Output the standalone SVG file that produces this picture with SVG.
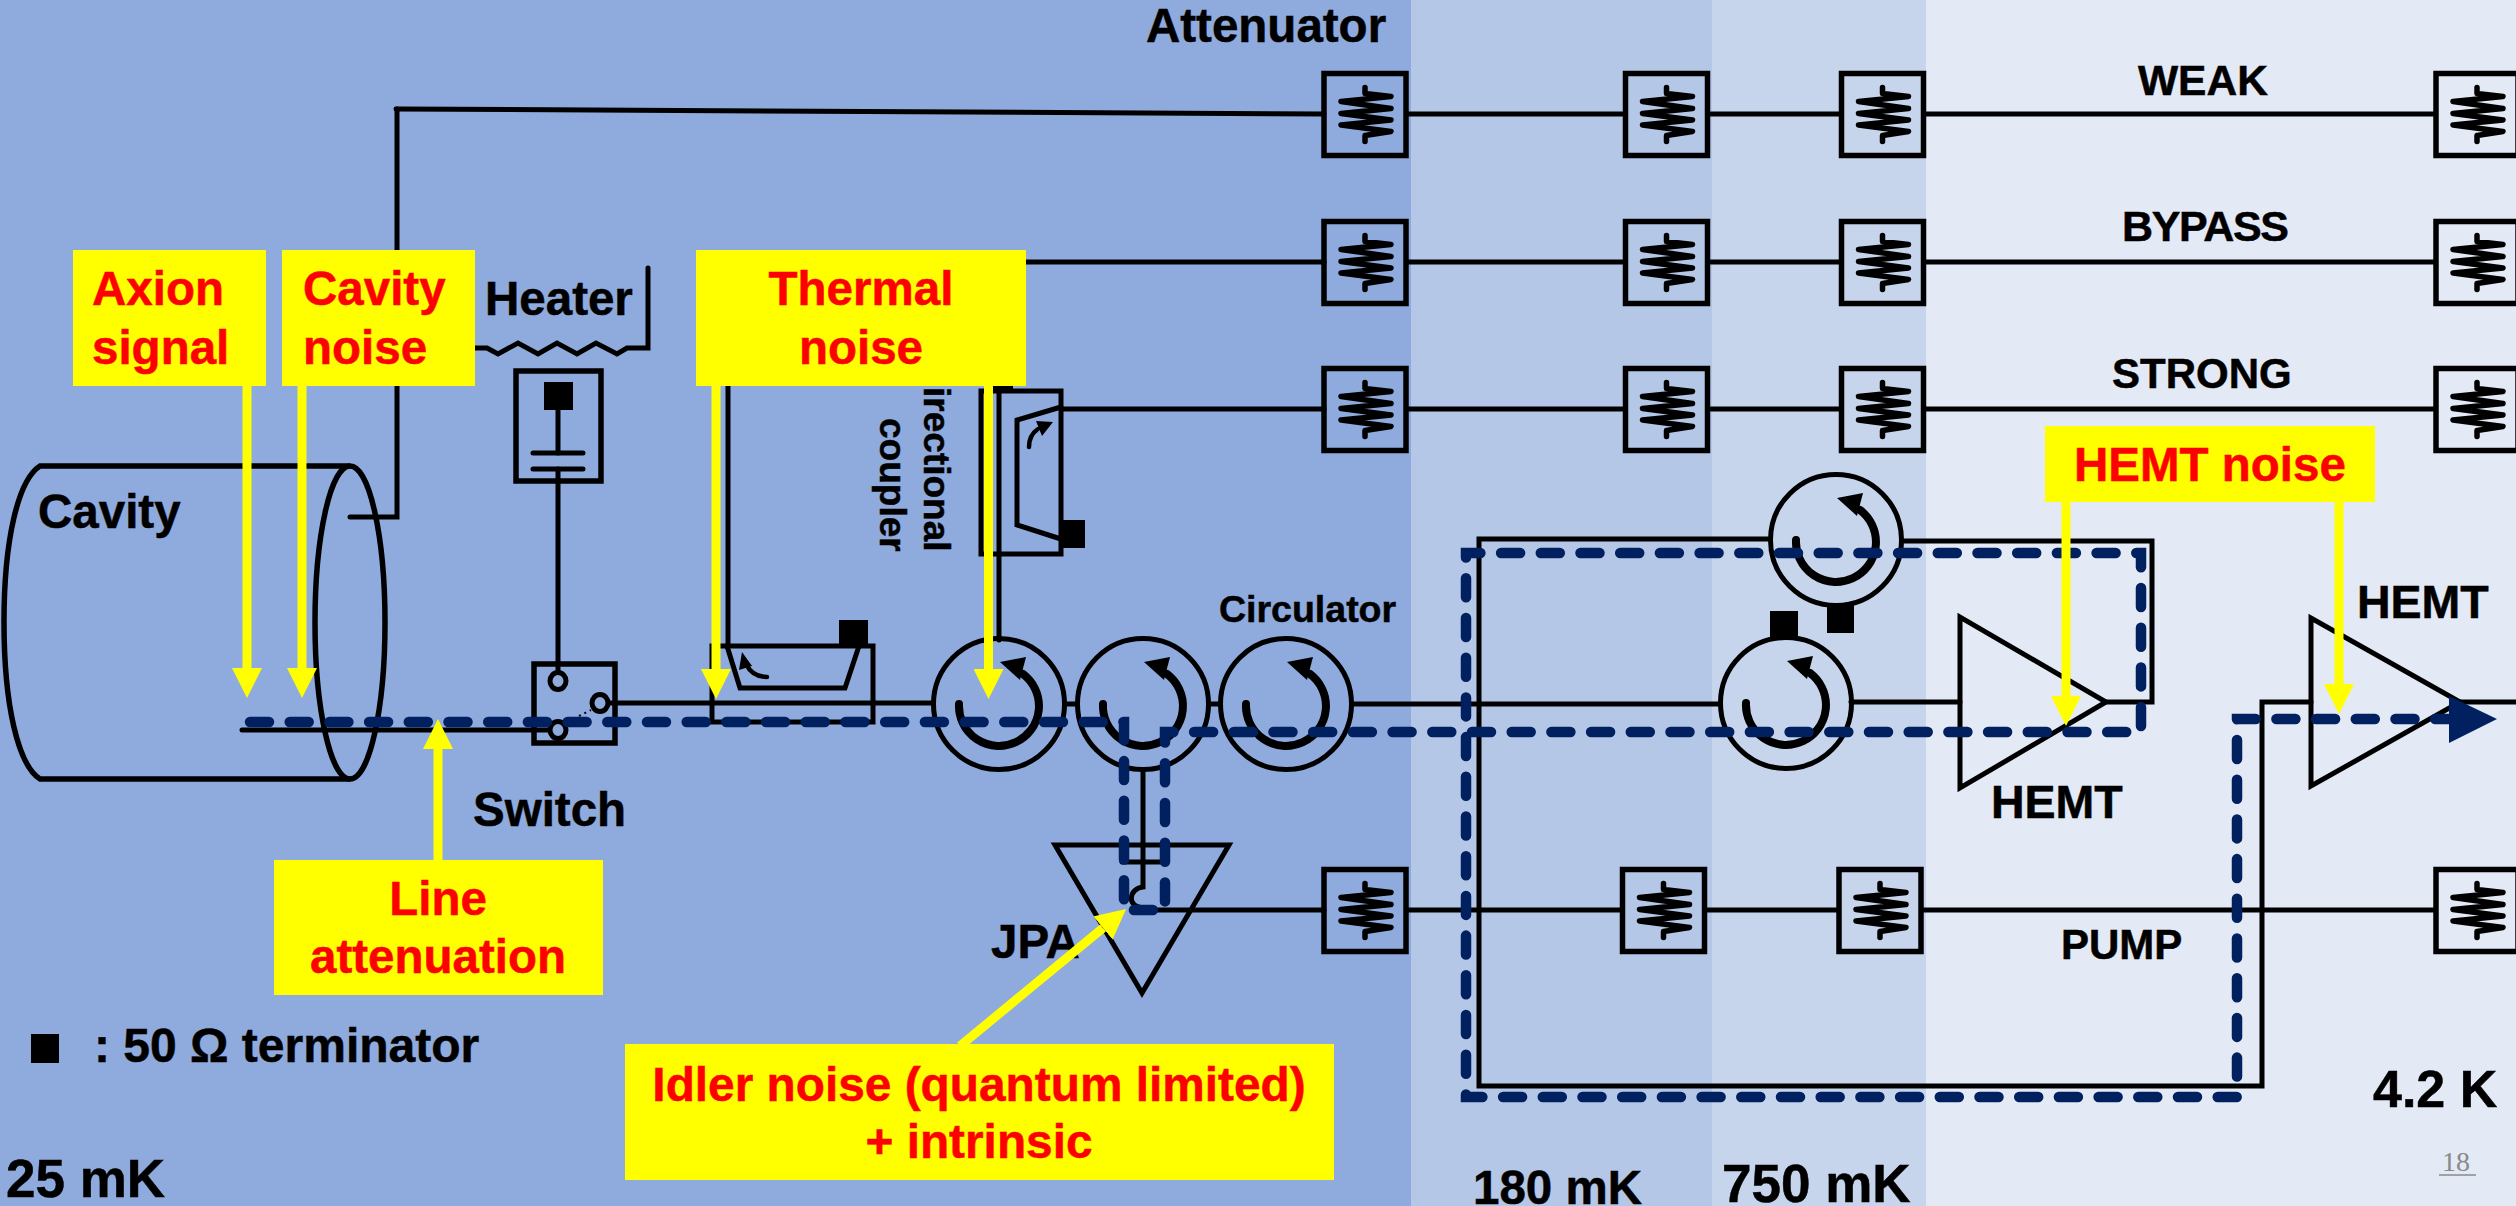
<svg xmlns="http://www.w3.org/2000/svg" xmlns:xlink="http://www.w3.org/1999/xlink" width="2516" height="1206" viewBox="0 0 2516 1206">
<style>
.w{fill:none;stroke:#000;stroke-width:5;stroke-linecap:round;stroke-linejoin:miter}
.b{fill:none;stroke:#000;stroke-width:5.500}
.k{fill:#000}
.t{font-family:"Liberation Sans",Arial,sans-serif;font-weight:700;font-size:47.500px;fill:#000;stroke:#000;stroke-width:.5}
.r{font-family:"Liberation Sans",Arial,sans-serif;font-weight:700;font-size:47.500px;fill:#f00;stroke:#f00;stroke-width:.5}
.m{text-anchor:middle}
.y{fill:#ff0}
.ya{fill:none;stroke:#ff0;stroke-width:9;marker-end:url(#ya)}
.d{fill:none;stroke:#002060;stroke-width:10.500;stroke-linecap:round;stroke-dasharray:19 20.7}
</style>
<defs>
<marker id="ya" markerUnits="userSpaceOnUse" markerWidth="30" markerHeight="30" viewBox="0 0 28 28" refX="0" refY="14" orient="auto"><path d="M0,0L28,14L0,28Z" fill="#ff0"/></marker>
<g id="att"><rect class="b" x="-41" y="-41" width="82" height="82"/><path fill="none" stroke="#000" stroke-width="5.500" stroke-linecap="round" stroke-linejoin="round" d="M0,-27V-21L26,-18L-24,-13L26,-6L-24,-1L26,5.500L-24,10.500L26,17L0,21V27"/></g>
<g id="circ"><circle class="w" r="65.500"/><path fill="none" stroke="#000" stroke-width="8" stroke-linecap="round" d="M-40,0A40,40 0 1 0 24,-30"/><path class="k" d="M1,-42L27,-47L21,-24Z"/></g>
</defs>

<g id="background">
<rect width="2516" height="1206" fill="#e3e9f5"/>
<rect width="1926" height="1206" fill="#c7d5ec"/>
<rect width="1712" height="1206" fill="#b4c7e7"/>
<rect width="1411" height="1206" fill="#8faadc"/>
</g>

<g id="connectors">
<path class="w" d="M396,109L1324,114"/>
<path class="w" d="M397,109V517H350"/>
<path class="w" d="M728,262V646"/>
<path class="w" d="M728,262H1324"/>
<path class="w" d="M1061,409H1324"/>
<path class="w" d="M999,385V640"/>
<path class="w" d="M1408,114H1622M1711,114H1839M1926,114H2433"/>
<path class="w" d="M1408,262H1622M1711,262H1839M1926,262H2433"/>
<path class="w" d="M1408,409H1622M1711,409H1839M1926,409H2433"/>
<path class="w" d="M1135,910H1324M1408,910H1620M1707,910H1837M1923,910H2433"/>
<path class="w" d="M242,730H549"/>
<path class="w" d="M609,703H933M1065,704H1077M1209,704H1220M1352,704H1720M1851,702H1960"/>
<path class="w" d="M1143,770V862"/>
<path class="w" d="M1143,862V887C1130,888 1125,906 1143,908"/>
<path class="w" d="M1770,539H1479V1086H2262V702H2311"/>
<path class="w" d="M1902,541H2152V702H2107"/>
<path class="w" d="M2460,702H2516"/>
<path class="w" d="M475,348H487L498,354L518,343L538,354L557,343L577,354L596,343L617,354L627,348H648V268"/>
<path class="w" d="M558,410V453M558,469V671"/>
</g>

<g id="cavity">
<path class="b" d="M350,466H40C18,480 4,540 4,622C4,705 18,765 40,779H350"/>
<ellipse class="b" cx="350" cy="622.500" rx="35" ry="156.500"/>
<text class="t" x="38" y="528">Cavity</text>
</g>

<g id="heater">
<rect class="b" x="516" y="371" width="85" height="110"/>
<rect class="k" x="544" y="382" width="29" height="28"/>
<path class="w" d="M533,453H583M533,469H583"/>
<text class="t" x="485" y="315">Heater</text>
</g>

<g id="switch">
<rect class="b" x="534" y="664" width="81" height="79"/>
<ellipse class="w" cx="558" cy="681" rx="8" ry="8.500"/>
<ellipse class="w" cx="600" cy="703" rx="8" ry="8.500"/>
<ellipse class="w" cx="558" cy="730" rx="8" ry="8.500"/>
<path fill="none" stroke="#000" stroke-width="2" stroke-dasharray="2 4" d="M579,716L591,710"/>
<text class="t" x="473" y="826">Switch</text>
</g>

<g id="coupler-1">
<rect class="w" x="712" y="646" width="161" height="76"/>
<path class="w" d="M727,646L740,688H845L859,646"/>
<rect class="k" x="839" y="620" width="29" height="26"/>
<path fill="none" stroke="#000" stroke-width="4.500" stroke-linecap="round" d="M767,677C757,677 750,672 746,664"/>
<path class="k" d="M742,652L752,666L739,670Z"/>
</g>

<g id="coupler-2">
<rect class="w" x="981" y="391" width="80" height="163"/>
<path class="w" d="M1061,407L1017,420V525L1061,539"/>
<rect class="k" x="1059" y="520" width="26" height="28"/>
<rect class="k" x="992" y="372" width="21" height="20"/>
<path fill="none" stroke="#000" stroke-width="4.500" stroke-linecap="round" d="M1029,447C1029,439 1032,433 1038,429"/>
<path class="k" d="M1053,422L1036,421L1042,436Z"/>
<text class="t" style="font-size:37px" transform="translate(924,387) rotate(90)">irectional</text>
<text class="t" style="font-size:37px" transform="translate(880,418) rotate(90)">coupler</text>
</g>

<use id="circ-1" href="#circ" x="999" y="704"/>
<use id="circ-2" href="#circ" x="1143" y="704"/>
<use id="circ-3" href="#circ" x="1286" y="704"/>
<use id="circ-4" href="#circ" x="1786" y="703"/>
<use id="circ-5" href="#circ" x="1836" y="540"/>
<g id="terminators">
<rect class="k" x="1770" y="611" width="28" height="26"/>
<rect class="k" x="1827" y="604" width="27" height="29"/>
</g>
<text id="circulator-label" class="t" style="font-size:37.500px" x="1219" y="622">Circulator</text>

<g id="jpa">
<path class="w" d="M1055,845H1229L1142,993Z"/>
<path class="w" d="M1122,862H1160"/>
<text class="t" x="991" y="958">JPA</text>
</g>

<g id="hemt-1">
<path class="w" d="M1960,617V788L2106,702Z"/>
<text class="t" style="font-size:46.500px" x="1991" y="818">HEMT</text>
</g>
<g id="hemt-2">
<path class="w" d="M2311,618V786L2460,702Z"/>
<text class="t" style="font-size:46.500px" x="2357" y="618">HEMT</text>
</g>

<g id="attenuators">
<use href="#att" x="1365" y="114.500"/><use href="#att" x="1666.500" y="114.500"/><use href="#att" x="1882.500" y="114.500"/><use href="#att" x="2477" y="114.500"/>
<use href="#att" x="1365" y="262.500"/><use href="#att" x="1666.500" y="262.500"/><use href="#att" x="1882.500" y="262.500"/><use href="#att" x="2477" y="262.500"/>
<use href="#att" x="1365" y="409.500"/><use href="#att" x="1666.500" y="409.500"/><use href="#att" x="1882.500" y="409.500"/><use href="#att" x="2477" y="409.500"/>
<use href="#att" x="1365" y="910.500"/><use href="#att" x="1663.500" y="910.500"/><use href="#att" x="1880" y="910.500"/><use href="#att" x="2477" y="910.500"/>
</g>

<g id="labels">
<text class="t" x="1146" y="42">Attenuator</text>
<text class="t" style="font-size:42.500px" x="2138" y="95">WEAK</text>
<text class="t" style="font-size:43px" x="2122" y="241" textLength="167">BYPASS</text>
<text class="t" style="font-size:42px" x="2112" y="388">STRONG</text>
<text class="t" style="font-size:42px" x="2061" y="959">PUMP</text>
<text class="t" style="font-size:52px" x="2373" y="1107">4.2 K</text>
<text class="t" style="font-size:53px" x="6" y="1197">25 mK</text>
<text class="t" x="1473" y="1204">180 mK</text>
<text class="t" style="font-size:53px" x="1722" y="1202">750 mK</text>
<rect class="k" x="31" y="1034" width="28" height="29"/>
<text class="t" style="font-size:48px" x="94" y="1062">: 50 Ω terminator</text>
<text x="2442" y="1171" font-family="'Liberation Serif',serif" font-size="28" fill="#898989">18</text>
<path d="M2439,1175H2476" stroke="#898989" stroke-width="1.500"/>
</g>

<path id="signal-path" class="d" d="M250,722H1124V910H1165V732H2141V553H1466V1097H2237V719H2452"/>
<path id="signal-arrow" fill="#002060" d="M2449,696L2497,719L2449,743Z"/>

<g id="noise-arrows">
<path class="ya" d="M247,386V668"/>
<path class="ya" d="M302,386V668"/>
<path class="ya" d="M716,386V669"/>
<path class="ya" d="M988.500,386V669"/>
<path class="ya" d="M2066,502V696"/>
<path class="ya" d="M2339,502V684"/>
<path class="ya" d="M438,860V749"/>
<path class="ya" d="M960,1046L1103,928"/>
</g>

<g id="noise-axion"><rect class="y" x="73" y="250" width="193" height="136"/><text class="r" x="92" y="305">Axion</text><text class="r" x="92" y="364">signal</text></g>
<g id="noise-cavity"><rect class="y" x="282" y="250" width="193" height="136"/><text class="r" x="303" y="305">Cavity</text><text class="r" x="303" y="364">noise</text></g>
<g id="noise-thermal"><rect class="y" x="696" y="250" width="330" height="136"/><text class="r m" x="861" y="305">Thermal</text><text class="r m" x="861" y="364">noise</text></g>
<g id="noise-hemt"><rect class="y" x="2045" y="426" width="330" height="76"/><text class="r" x="2074" y="481">HEMT noise</text></g>
<g id="noise-line"><rect class="y" x="274" y="860" width="329" height="135"/><text class="r m" x="438" y="915">Line</text><text class="r m" x="438" y="973">attenuation</text></g>
<g id="noise-idler"><rect class="y" x="625" y="1044" width="709" height="136"/><text class="r m" style="font-size:47.800px" x="979" y="1101">Idler noise (quantum limited)</text><text class="r m" style="font-size:47.800px" x="979" y="1158">+ intrinsic</text></g>
</svg>
